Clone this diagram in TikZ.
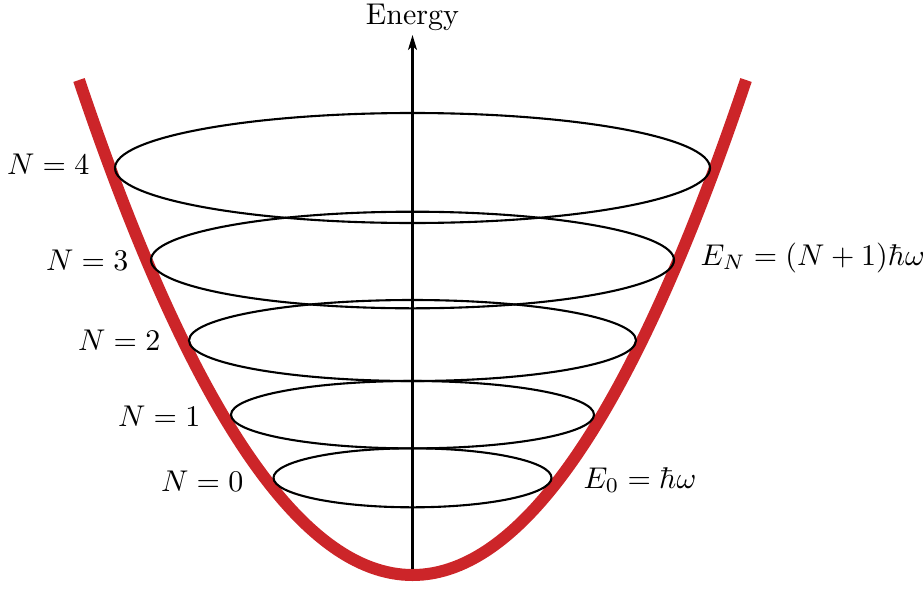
\documentclass[tikz,border=0pt]{standalone}
\usetikzlibrary{arrows.meta}
\definecolor{wellred}{RGB}{204,37,41}
\begin{document}
\begin{tikzpicture}[x=0.3333pt,y=-0.3333pt,
  levelline/.style={line width=0.7pt, draw=black},
  well/.style={line width=4pt, draw=wellred},
  lab/.style={inner sep=0pt}]
\useasboundingbox (0,0) rectangle (923,590);
% potential well (exact parabola as cubic Bezier)
\draw[well] (79,80) .. controls (301.33,740) and (523.67,740) .. (746,80);
% energy levels
\draw[levelline] (412.5,168) ellipse [x radius=297.5, y radius=55];
\draw[levelline] (412.5,260) ellipse [x radius=261.5, y radius=48.3];
\draw[levelline] (412.5,340.5) ellipse [x radius=223.5, y radius=40.5];
\draw[levelline] (412.5,414.7) ellipse [x radius=181.5, y radius=33.7];
\draw[levelline] (412.5,477.8) ellipse [x radius=139, y radius=29.5];
% axis
\coordinate (axbot) at (412.5,569);
\coordinate (axtop) at (412.5,35);
\draw[line width=0.7pt,-{Stealth[length=5pt,width=3pt,inset=1.3pt]}] (axbot) -- (axtop);
\node[lab, anchor=base] (energy) at (412.5,25) {Energy};
% labels
\node[lab, anchor=base east] (n4) at (90,174) {$N=4$};
\node[lab, anchor=base east] (n3) at (129,270) {$N=3$};
\node[lab, anchor=base east] (n2) at (161,350.5) {$N=2$};
\node[lab, anchor=base east] (n1) at (201,426.5) {$N=1$};
\node[lab, anchor=base east] (n0) at (244,491) {$N=0$};
\node[lab, anchor=base west] (eN) at (700,265) {$E_N=(N+1)\hbar\omega$};
\node[lab, anchor=base west] (e0) at (583,488) {$E_0=\hbar\omega$};
\end{tikzpicture}
\end{document}
